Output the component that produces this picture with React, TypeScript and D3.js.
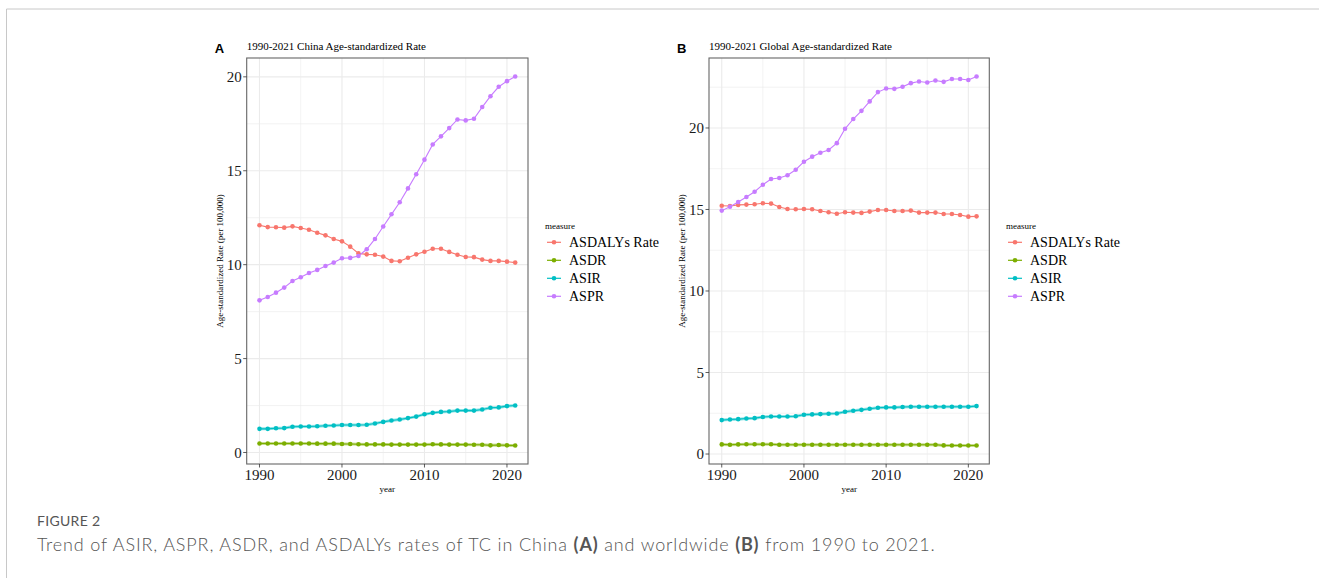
import React from "react";
import * as d3 from "d3";

const years: number[] = d3.range(1990, 2022);
const measures = ["ASDALYs Rate", "ASDR", "ASIR", "ASPR"];
const colors = ["#F8766D", "#7CAE00", "#00BFC4", "#C77CFF"];

const chinaASDALYs = [12.1, 12.0, 11.99, 11.97, 12.04, 11.95, 11.86, 11.7, 11.56, 11.37, 11.24, 10.96, 10.6, 10.55, 10.53, 10.43, 10.2, 10.18, 10.37, 10.55, 10.69, 10.85, 10.85, 10.68, 10.53, 10.41, 10.4, 10.27, 10.2, 10.2, 10.16, 10.11];
const chinaASDR = [0.48, 0.48, 0.48, 0.48, 0.48, 0.48, 0.48, 0.47, 0.47, 0.47, 0.45, 0.45, 0.44, 0.43, 0.43, 0.43, 0.42, 0.42, 0.42, 0.42, 0.42, 0.44, 0.43, 0.42, 0.42, 0.42, 0.41, 0.41, 0.38, 0.4, 0.38, 0.37];
const chinaASIR = [1.26, 1.26, 1.29, 1.3, 1.37, 1.38, 1.38, 1.4, 1.42, 1.44, 1.46, 1.46, 1.46, 1.48, 1.54, 1.63, 1.7, 1.76, 1.83, 1.91, 2.04, 2.11, 2.16, 2.18, 2.23, 2.23, 2.23, 2.29, 2.38, 2.4, 2.47, 2.5];
const chinaASPR = [8.1, 8.28, 8.51, 8.78, 9.13, 9.33, 9.56, 9.72, 9.93, 10.11, 10.34, 10.36, 10.46, 10.82, 11.37, 12.03, 12.68, 13.32, 14.06, 14.81, 15.59, 16.4, 16.83, 17.27, 17.73, 17.68, 17.77, 18.39, 18.97, 19.47, 19.77, 20.02];

const globalASDALYs = [15.23, 15.21, 15.28, 15.3, 15.32, 15.38, 15.36, 15.15, 15.03, 15.01, 15.03, 15.01, 14.91, 14.83, 14.74, 14.83, 14.81, 14.79, 14.87, 14.97, 14.97, 14.91, 14.91, 14.93, 14.81, 14.81, 14.81, 14.72, 14.72, 14.66, 14.56, 14.58];
const globalASDR = [0.59, 0.57, 0.59, 0.6, 0.6, 0.6, 0.6, 0.57, 0.57, 0.57, 0.57, 0.57, 0.57, 0.57, 0.57, 0.57, 0.57, 0.57, 0.57, 0.57, 0.57, 0.57, 0.57, 0.57, 0.57, 0.57, 0.57, 0.53, 0.52, 0.52, 0.52, 0.52];
const globalASIR = [2.08, 2.12, 2.14, 2.18, 2.2, 2.27, 2.3, 2.3, 2.3, 2.32, 2.41, 2.43, 2.45, 2.47, 2.49, 2.59, 2.65, 2.71, 2.78, 2.84, 2.86, 2.86, 2.88, 2.9, 2.9, 2.9, 2.9, 2.9, 2.9, 2.9, 2.9, 2.94];
const globalASPR = [14.93, 15.17, 15.46, 15.77, 16.09, 16.52, 16.87, 16.93, 17.1, 17.44, 17.93, 18.24, 18.48, 18.65, 19.07, 19.95, 20.55, 21.05, 21.63, 22.2, 22.42, 22.4, 22.53, 22.75, 22.85, 22.79, 22.91, 22.83, 23.0, 23.0, 22.94, 23.16];

const xTicks = [1990, 2000, 2010, 2020];
const chinaYTicks = [0, 5, 10, 15, 20];
const globalYTicks = [0, 5, 10, 15, 20];

const panels = [
  { tag: "A", title: "1990-2021 China Age-standardized Rate", series: [chinaASDALYs, chinaASDR, chinaASIR, chinaASPR], yTicks: chinaYTicks, left: 246.7, right: 528, legendX: 545 },
  { tag: "B", title: "1990-2021 Global Age-standardized Rate", series: [globalASDALYs, globalASDR, globalASIR, globalASPR], yTicks: globalYTicks, left: 709, right: 989.3, legendX: 1006 },
];

const TOP = 58;
const BOTTOM = 464;
const serif = "'Liberation Serif', 'Times New Roman', serif";

function Panel({ p }: { p: typeof panels[number] }) {
  const allVals = p.series.flat();
  const [ymin, ymax] = d3.extent(allVals) as [number, number];
  const yExp = (ymax - ymin) * 0.05;
  const xExp = (2021 - 1990) * 0.05;
  const x = d3.scaleLinear().domain([1990 - xExp, 2021 + xExp]).range([p.left, p.right]);
  const y = d3.scaleLinear().domain([ymin - yExp, ymax + yExp]).range([BOTTOM, TOP]);
  const yMajor = p.yTicks.filter((t) => t <= ymax + yExp);
  const yMinor = d3.range(-2.5, ymax + yExp, 5).filter((v) => v >= ymin - yExp && v <= ymax + yExp);
  const xMinor = [1995, 2005, 2015];
  const line = d3.line<number>().x((_, i) => x(years[i])).y((v) => y(v));
  const grid = "#EBEBEB";
  const axisCol = "#333";
  const midY = (TOP + BOTTOM) / 2;
  const midX = (p.left + p.right) / 2;
  return (
    <g>
      <text x={p.left - 32} y={52.5} fontFamily="'Liberation Sans', Arial, sans-serif" fontWeight="bold" fontSize={13} fill="#000">{p.tag}</text>
      <text x={p.left} y={49.5} fontFamily={serif} fontSize={11} fill="#000">{p.title}</text>
      <rect x={p.left} y={TOP} width={p.right - p.left} height={BOTTOM - TOP} fill="#fff" />
      {yMinor.map((v) => (
        <line key={"ym" + v} x1={p.left} x2={p.right} y1={y(v)} y2={y(v)} stroke={grid} strokeWidth={0.6} />
      ))}
      {xMinor.map((v) => (
        <line key={"xm" + v} y1={TOP} y2={BOTTOM} x1={x(v)} x2={x(v)} stroke={grid} strokeWidth={0.6} />
      ))}
      {yMajor.map((v) => (
        <line key={"yM" + v} x1={p.left} x2={p.right} y1={y(v)} y2={y(v)} stroke={grid} strokeWidth={1.1} />
      ))}
      {xTicks.map((v) => (
        <line key={"xM" + v} y1={TOP} y2={BOTTOM} x1={x(v)} x2={x(v)} stroke={grid} strokeWidth={1.1} />
      ))}
      {p.series.map((s, k) => (
        <g key={"s" + k}>
          <path d={line(s) || ""} fill="none" stroke={colors[k]} strokeOpacity={k === 1 || k === 2 ? 0.45 : 0} strokeWidth={3} />
          <path d={line(s) || ""} fill="none" stroke={colors[k]} strokeWidth={1.1} />
          {s.map((v, i) => (
            <circle key={i} cx={x(years[i])} cy={y(v)} r={2.3} fill={colors[k]} />
          ))}
        </g>
      ))}
      <rect x={p.left} y={TOP} width={p.right - p.left} height={BOTTOM - TOP} fill="none" stroke="#666" strokeWidth={1.1} />
      {yMajor.map((v) => (
        <g key={"yt" + v}>
          <line x1={p.left - 3.5} x2={p.left} y1={y(v)} y2={y(v)} stroke={axisCol} strokeWidth={0.8} />
          <text x={p.left - 5} y={y(v)} dy="0.35em" textAnchor="end" fontFamily={serif} fontSize={15} fill="#1a1a1a">{v}</text>
        </g>
      ))}
      {xTicks.map((v) => (
        <g key={"xt" + v}>
          <line x1={x(v)} x2={x(v)} y1={BOTTOM} y2={BOTTOM + 3.5} stroke={axisCol} strokeWidth={0.8} />
          <text x={x(v)} y={480} textAnchor="middle" fontFamily={serif} fontSize={15} fill="#1a1a1a">{v}</text>
        </g>
      ))}
      <text x={midX} y={492} textAnchor="middle" fontFamily={serif} fontSize={9} fill="#000">year</text>
      <text transform={`translate(${p.left - 24},${midY}) rotate(-90)`} textAnchor="middle" fontFamily={serif} fontSize={9} fill="#000">Age-standardized Rate (per 100,000)</text>
      <text x={p.legendX} y={228.5} fontFamily={serif} fontSize={9} fill="#000">measure</text>
      {measures.map((m, k) => {
        const cy = 242.3 + k * 18;
        return (
          <g key={m}>
            <line x1={p.legendX + 2} x2={p.legendX + 16} y1={cy} y2={cy} stroke={colors[k]} strokeWidth={1.2} />
            <circle cx={p.legendX + 9} cy={cy} r={2.3} fill={colors[k]} />
            <text x={p.legendX + 24} y={cy} dy="0.35em" fontFamily={serif} fontSize={14} fill="#000">{m}</text>
          </g>
        );
      })}
    </g>
  );
}

export default function App() {
  const cap = "'Lato', 'Open Sans', sans-serif";
  return (
    <svg width={1319} height={578} style={{ position: "absolute", left: 0, top: 0, background: "#fff" }}>
      <rect x={0} y={0} width={1319} height={578} fill="#fff" />
      <line x1={6.5} x2={1319} y1={9} y2={9} stroke="#c8c8c8" strokeWidth={1} />
      <line x1={6.5} x2={6.5} y1={9} y2={578} stroke="#c8c8c8" strokeWidth={1} />
      {panels.map((p) => (
        <Panel key={p.tag} p={p} />
      ))}
      <text x={37} y={526} fontFamily={cap} fontSize={14} fill="#555" letterSpacing={0.3}>FIGURE 2</text>
      <text x={37} y={551} fontFamily={cap} fontSize={18} fontWeight={300} fill="#555" letterSpacing={0.85}>
        Trend of ASIR, ASPR, ASDR, and ASDALYs rates of TC in China <tspan fontWeight="bold">(A)</tspan> and worldwide <tspan fontWeight="bold">(B)</tspan> from 1990 to 2021.
      </text>
    </svg>
  );
}
